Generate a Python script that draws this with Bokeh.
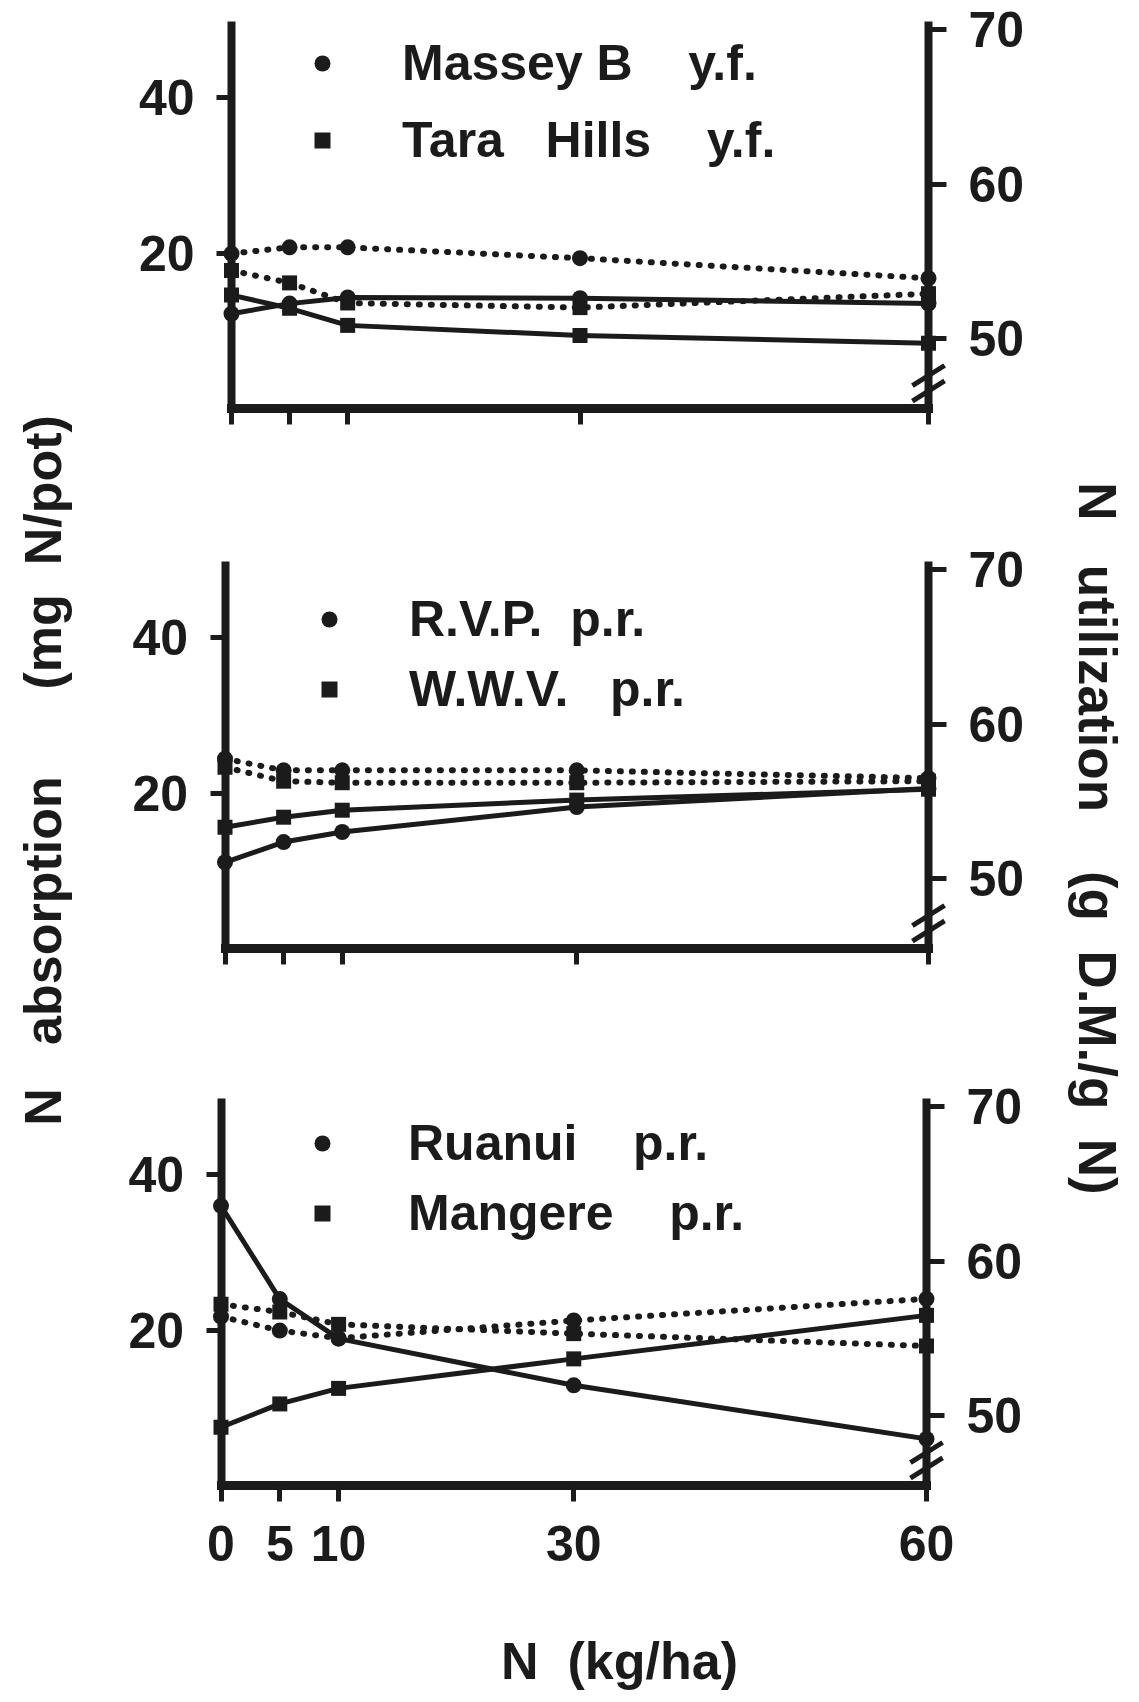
import math
from bokeh.plotting import figure
from bokeh.models import Range1d, LinearAxis, FixedTicker, Legend, LegendItem, Label
from bokeh.core.properties import value
from bokeh.embed import file_html
from bokeh.resources import INLINE

# ---------------- data ----------------
N_RATE = [0, 5, 10, 30, 60]          # N applied (kg/ha)
X_TICKS = [0, 5, 10, 30, 60]
LEFT_TICKS = [20, 40]                # N absorption (mg N/pot)
RIGHT_TICKS = [50, 60, 70]           # N utilization (g D.M./g N)

# panel 1
massey_abs = [12.2, 13.5, 14.3, 14.2, 13.5]
massey_util = [55.5, 55.9, 55.9, 55.2, 53.9]
tara_abs = [14.6, 12.9, 10.7, 9.4, 8.4]
tara_util = [54.4, 53.6, 52.3, 52.0, 52.9]
# panel 2
rvp_abs = [11.1, 13.7, 15.0, 18.2, 20.6]
rvp_util = [57.75, 57.0, 57.0, 57.0, 56.5]
wwv_abs = [15.6, 16.9, 17.8, 19.1, 20.5]
wwv_util = [57.2, 56.3, 56.2, 56.2, 56.3]
# panel 3
ruanui_abs = [36.0, 24.0, 18.9, 12.9, 6.0]
ruanui_util = [56.4, 55.5, 55.0, 56.15, 57.55]
mangere_abs = [7.5, 10.5, 12.5, 16.3, 21.9]
mangere_util = [57.2, 56.7, 55.9, 55.3, 54.5]

PANELS = [
    {"circle": ("Massey B", "y.f.", massey_abs, massey_util),
     "square": ("Tara\u00a0\u00a0\u00a0Hills", "y.f.", tara_abs, tara_util),
     "gaps": (4, 4)},
    {"circle": ("R.V.P.", "p.r.", rvp_abs, rvp_util),
     "square": ("W.W.V.", "p.r.", wwv_abs, wwv_util),
     "gaps": (2, 3)},
    {"circle": ("Ruanui", "p.r.", ruanui_abs, ruanui_util),
     "square": ("Mangere", "p.r.", mangere_abs, mangere_util),
     "gaps": (4, 4)},
]
BREAK_AT = [47.6, 46.6]              # axis-break marks on the utilization axis

# ---------------- layout / style ----------------
W, H = 1139, 1700
X0_PX, X60_PX = 225.4, 927.6                     # reference frame for titles
PANEL_X0 = [231.0, 224.5, 220.5]                 # pixel of x=0 in each panel
PANEL_X60 = [928.0, 928.0, 926.0]                # pixel of x=60 in each panel
PPU = (X60_PX - X0_PX) / 60.0
PANEL_TOP = [25, 565, 1102]
PANEL_H = 383
LEFT_MAX = 49.3
R_MIN, R_MAX = 45.47, 70.26
PPY = PANEL_H / LEFT_MAX
PPR = PANEL_H / (R_MAX - R_MIN)
INK = "#1b1b1b"
SANS = "Liberation Sans"
LEGEND_BOX = [(302, 33, 17), (309, 589, 10), (302, 1113, 10)]  # left, top, spacing (px)

p = figure(width=W, height=H, output_backend="svg", toolbar_location=None,
           x_axis_location=None, y_axis_location=None, title=None,
           min_border=0, background_fill_color="white", border_fill_color="white")
p.min_border_left = p.min_border_right = p.min_border_top = p.min_border_bottom = 0
p.outline_line_color = None
p.grid.visible = False
p.x_range = Range1d(-X0_PX / PPU, (W - X0_PX) / PPU)
p.y_range = Range1d(0, 1)

def xd(px):
    return (px - X0_PX) / PPU

def yl(px, k):
    return LEFT_MAX - (px - PANEL_TOP[k]) / PPY

def style_axis(ax, size):
    ax.axis_line_width = 8
    ax.axis_line_color = INK
    ax.axis_line_cap = "square"
    ax.major_tick_line_width = 5
    ax.major_tick_line_color = INK
    ax.major_tick_in = 0
    ax.minor_tick_line_color = None
    ax.major_label_text_font = SANS
    ax.major_label_text_font_size = size
    ax.major_label_text_font_style = "bold"
    ax.major_label_text_color = INK

for k, panel in enumerate(PANELS):
    top = PANEL_TOP[k]
    bottom = top + PANEL_H
    xn, ln, rn = f"X{k}", f"L{k}", f"R{k}"
    ppx = (PANEL_X60[k] - PANEL_X0[k]) / 60.0
    p.extra_x_ranges[xn] = Range1d(-PANEL_X0[k] / ppx, (W - PANEL_X0[k]) / ppx)
    p.extra_y_ranges[ln] = Range1d(-(H - bottom) / PPY, LEFT_MAX + top / PPY)
    p.extra_y_ranges[rn] = Range1d(R_MIN - (H - bottom) / PPR, R_MAX + top / PPR)

    # axes
    lax = LinearAxis(x_range_name=xn, y_range_name=ln, fixed_location=0,
                     bounds=(0, LEFT_MAX), ticker=FixedTicker(ticks=LEFT_TICKS))
    style_axis(lax, "50px")
    lax.major_tick_out = 15
    lax.major_label_standoff = 22
    p.add_layout(lax, "left")

    rax = LinearAxis(x_range_name=xn, y_range_name=rn, fixed_location=60,
                     bounds=(R_MIN, R_MAX), ticker=FixedTicker(ticks=RIGHT_TICKS))
    style_axis(rax, "50px")
    rax.major_tick_out = 18
    rax.major_label_standoff = 22
    p.add_layout(rax, "right")

    xax = LinearAxis(x_range_name=xn, y_range_name=ln, fixed_location=0,
                     bounds=(0, 60), ticker=FixedTicker(ticks=X_TICKS))
    style_axis(xax, "50px")
    xax.axis_line_width = 9
    xax.major_tick_out = 16
    xax.major_label_standoff = 24
    if k < 2:
        xax.major_label_text_color = None
    p.add_layout(xax, "below")

    # series
    items = []
    for marker, msize in (("circle", 16), ("square", 15)):
        name, qual, absorb, util = panel[marker]
        p.line(N_RATE, util, x_range_name=xn, y_range_name=rn, line_color=INK,
               line_width=6, line_dash="1 11", line_cap="round")
        p.scatter(N_RATE, util, x_range_name=xn, y_range_name=rn, marker=marker,
                  size=msize, fill_color=INK, line_color=None)
        p.line(N_RATE, absorb, x_range_name=xn, y_range_name=ln, line_color=INK,
               line_width=5, line_join="round")
        r = p.scatter(N_RATE, absorb, x_range_name=xn, y_range_name=ln, marker=marker,
                      size=msize, fill_color=INK, line_color=None)
        gap = panel["gaps"][0 if marker == "circle" else 1]
        items.append(LegendItem(label=value(name + "\u00a0" * gap + qual), renderers=[r]))

    # axis break on utilization axis
    p.scatter([X_TICKS[-1]] * len(BREAK_AT), BREAK_AT, x_range_name=xn, y_range_name=rn,
              marker="dash", size=38, angle=0.56, line_width=5, line_color=INK)

    # legend
    lx, ltop, lsp = LEGEND_BOX[k]
    item_h = 60
    leg_h = 2 * item_h + lsp
    leg = Legend(items=items, location=(lx, H - (ltop + leg_h)), padding=0, margin=0,
                 spacing=lsp, glyph_width=40, glyph_height=item_h, label_height=item_h,
                 label_standoff=60 if k < 2 else 66, border_line_color=None,
                 background_fill_alpha=0, label_text_font=SANS,
                 label_text_font_size="50px", label_text_font_style="bold",
                 label_text_color=INK)
    p.add_layout(leg)

# axis titles
NB = "\u00a0"
p.add_layout(Label(x=xd(42), y=yl(770, 1), y_range_name="L1", angle=math.pi / 2,
                   text="N" + NB * 3 + "absorption" + NB * 6 + "(mg" + NB * 2 + "N/pot)",
                   text_align="center", text_baseline="middle", text_font=SANS,
                   text_font_size="52px", text_font_style="bold", text_color=INK))
p.add_layout(Label(x=xd(1097), y=yl(838, 1), y_range_name="L1", angle=-math.pi / 2,
                   text="N" + NB * 3 + "utilization" + NB * 4 + "(g" + NB * 2 + "D.M./g" + NB * 2 + "N)",
                   text_align="center", text_baseline="middle", text_font=SANS,
                   text_font_size="53px", text_font_style="bold", text_color=INK))
p.add_layout(Label(x=xd(619), y=yl(1660, 2), y_range_name="L2",
                   text="N" + NB * 2 + "(kg/ha)",
                   text_align="center", text_baseline="middle", text_font=SANS,
                   text_font_size="52px", text_font_style="bold", text_color=INK))

open("out.html", "w").write(file_html(p, INLINE))
